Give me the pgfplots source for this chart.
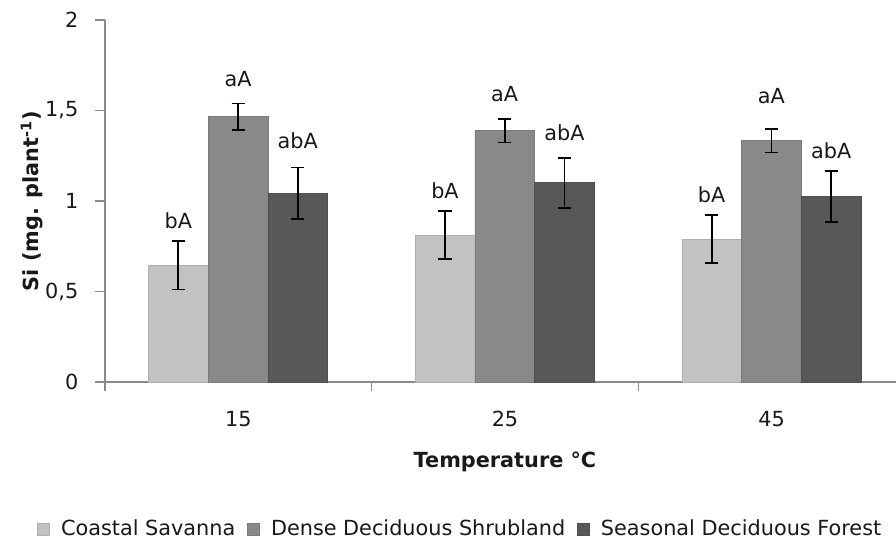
\documentclass[border=0pt]{standalone}
\usepackage{pgfplots}
\pgfplotsset{compat=1.18}
\usepackage{fontspec}
\setmainfont{DejaVu Sans}
\definecolor{cs}{HTML}{C2C2C2}
\definecolor{dds}{HTML}{898989}
\definecolor{sdf}{HTML}{585858}
\definecolor{axgray}{HTML}{8A8A8A}
\newcommand{\fs}{\fontsize{15.6}{18}\selectfont}
\begin{document}
\begin{tikzpicture}
\begin{axis}[
  scale only axis,
  width=600pt, height=271.5pt,
  xmin=0, xmax=3, ymin=0, ymax=2,
  axis x line*=bottom, axis y line*=left,
  axis line style={axgray, line width=0.8pt},
  tick align=outside,
  xtick={0.5,1.5,2.5}, xticklabels={15,25,45},
  major x tick style={draw=none},
  minor xtick={0,1,2,3},
  minor x tick style={axgray, line width=0.8pt},
  minor tick length=7pt,
  ytick={0,0.5,1,1.5,2},
  yticklabels={0,{0,5},1,{1,5},2},
  major y tick style={axgray, line width=0.8pt},
  major tick length=7.5pt,
  tick label style={font=\fs, text=black!90},
  xticklabel style={yshift=-11pt},
  yticklabel style={xshift=-9pt},
  xlabel={\textbf{Temperature °C}},
  ylabel={\textbf{Si (mg. plant\textsuperscript{-1})}},
  label style={font=\fs, text=black!90},
  xlabel style={yshift=-12pt},
  ylabel style={yshift=-5pt},
  legend style={at={(0.444,-0.406)}, anchor=center, draw=none,
    legend columns=3, font=\fs, text=black!90,
    /tikz/every even column/.append style={column sep=7pt},
    /tikz/every odd column/.append style={column sep=7pt},
    nodes={inner sep=1.7pt}},
  legend image code/.code={\fill[#1] (0pt,-4.5pt) rectangle (9pt,4.5pt);},
]
\addplot[ybar, bar width=0.224, bar shift=0pt, fill=cs, draw=cs!90!black, line width=0.4pt,
  error bars/.cd, y dir=both, y explicit,
  error bar style={black, line width=1.3pt},
  error mark options={rotate=90, mark size=4.9pt, line width=1.3pt, black}]
  coordinates {(0.275,0.646) +- (0,0.135) (1.275,0.812) +- (0,0.134) (2.275,0.790) +- (0,0.134)};
\addlegendentry{Coastal Savanna}
\addplot[ybar, bar width=0.224, bar shift=0pt, fill=dds, draw=dds!90!black, line width=0.4pt,
  error bars/.cd, y dir=both, y explicit,
  error bar style={black, line width=1.3pt},
  error mark options={rotate=90, mark size=4.9pt, line width=1.3pt, black}]
  coordinates {(0.499,1.466) +- (0,0.072) (1.499,1.389) +- (0,0.066) (2.499,1.333) +- (0,0.065)};
\addlegendentry{Dense Deciduous Shrubland}
\addplot[ybar, bar width=0.224, bar shift=0pt, fill=sdf, draw=sdf!90!black, line width=0.4pt,
  error bars/.cd, y dir=both, y explicit,
  error bar style={black, line width=1.3pt},
  error mark options={rotate=90, mark size=4.9pt, line width=1.3pt, black}]
  coordinates {(0.723,1.042) +- (0,0.143) (1.723,1.101) +- (0,0.138) (2.723,1.024) +- (0,0.140)};
\addlegendentry{Seasonal Deciduous Forest}
\addplot[draw=none, forget plot, nodes near coords, point meta=explicit symbolic,
  every node near coord/.append style={anchor=base, inner sep=0pt, font=\fs, text=black!90}]
  coordinates {(0.275,0.849)[bA] (0.499,1.630)[aA] (0.723,1.291)[abA]
               (1.275,1.015)[bA] (1.499,1.549)[aA] (1.723,1.333)[abA]
               (2.275,0.991)[bA] (2.499,1.536)[aA] (2.723,1.236)[abA]};
\end{axis}
\pgfresetboundingbox
\useasboundingbox (-78.75pt,-118.5pt) rectangle (593.25pt,286.5pt);
\end{tikzpicture}
\end{document}
